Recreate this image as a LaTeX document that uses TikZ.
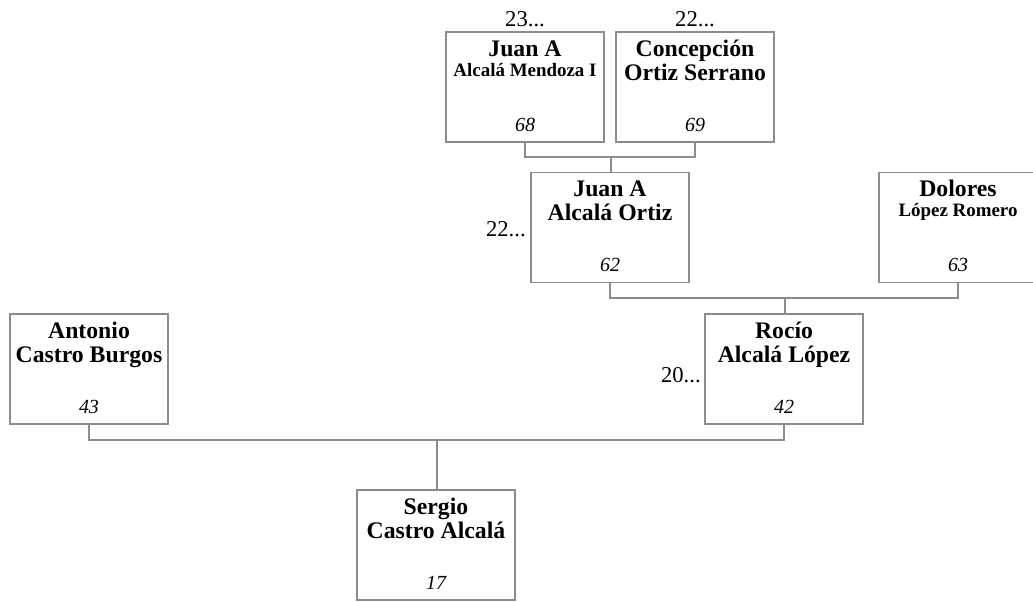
\documentclass[tikz,border=0pt]{standalone}
\usepackage{fontspec}
\setmainfont{Liberation Serif}
\definecolor{linegray}{RGB}{140,140,140}
\begin{document}
\begin{tikzpicture}[x=0.75pt,y=-0.75pt,
  person/.style={draw=linegray,line width=1pt,fill=white,minimum width=118.5pt,minimum height=82.5pt,inner sep=0pt},
  bigname/.style={anchor=base,inner sep=0pt,font=\fontsize{17.8}{20}\selectfont\bfseries},
  smallname/.style={anchor=base,inner sep=0pt,font=\fontsize{14.2}{16}\selectfont\bfseries},
  num/.style={anchor=base,inner sep=0pt,font=\fontsize{15}{17}\selectfont\itshape},
  gen/.style={inner sep=0pt,font=\fontsize{17}{19}\selectfont},
  conn/.style={draw=linegray,line width=1pt}]
\useasboundingbox (0,0) rectangle (1033,601);

% boxes
\node[person] (jt) at (525,87) {};
\node[person] (co) at (695,87) {};
\node[person] (j62) at (610,227.5) {};
\node[person] (dol) at (958,227.5) {};
\node[person] (ant) at (89,369) {};
\node[person] (roc) at (784,369) {};
\node[person] (ser) at (436,545) {};

% texts
\node[bigname] (jt1) at ([yshift=-18.75pt]jt.north) {Juan A};
\node[smallname] (jt2) at ([yshift=-33.75pt]jt.north) {Alcalá Mendoza I};
\node[num] (jt3) at ([yshift=-75pt]jt.north) {68};

\node[bigname] (co1) at ([yshift=-18.75pt]co.north) {Concepción};
\node[bigname] (co2) at ([yshift=-36.75pt]co.north) {Ortiz Serrano};
\node[num] (co3) at ([yshift=-75pt]co.north) {69};

\node[bigname] (j621) at ([yshift=-18.75pt]j62.north) {Juan A};
\node[bigname] (j622) at ([yshift=-36.75pt]j62.north) {Alcalá Ortiz};
\node[num] (j623) at ([yshift=-75pt]j62.north) {62};

\node[bigname] (dol1) at ([yshift=-18.75pt]dol.north) {Dolores};
\node[smallname] (dol2) at ([yshift=-33.75pt]dol.north) {López Romero};
\node[num] (dol3) at ([yshift=-75pt]dol.north) {63};

\node[bigname] (ant1) at ([yshift=-18.75pt]ant.north) {Antonio};
\node[bigname] (ant2) at ([yshift=-36.75pt]ant.north) {Castro Burgos};
\node[num] (ant3) at ([yshift=-75pt]ant.north) {43};

\node[bigname] (roc1) at ([yshift=-18.75pt]roc.north) {Rocío};
\node[bigname] (roc2) at ([yshift=-36.75pt]roc.north) {Alcalá López};
\node[num] (roc3) at ([yshift=-75pt]roc.north) {42};

\node[bigname] (ser1) at ([yshift=-18.75pt]ser.north) {Sergio};
\node[bigname] (ser2) at ([yshift=-36.75pt]ser.north) {Castro Alcalá};
\node[num] (ser3) at ([yshift=-75pt]ser.north) {17};

% generation labels
\node[gen,anchor=base] (g1) at ([yshift=3.75pt]jt.north) {23...};
\node[gen,anchor=base] (g2) at ([yshift=3.75pt]co.north) {22...};
\node[gen,anchor=base east] (g3) at (526,236) {22...};
\node[gen,anchor=base east] (g4) at (701,382) {20...};

% connectors
\coordinate (m1) at (611,157);
\draw[conn] (jt.south) |- (m1) -| (co.south);
\draw[conn] (m1) -- (m1 |- j62.north);

\coordinate (m2) at (785,298);
\draw[conn] (j62.south) |- (m2) -| (dol.south);
\draw[conn] (m2) -- (m2 |- roc.north);

\coordinate (m3) at (437,440);
\draw[conn] (ant.south) |- (m3) -| (roc.south);
\draw[conn] (m3) -- (m3 |- ser.north);
\end{tikzpicture}
\end{document}
